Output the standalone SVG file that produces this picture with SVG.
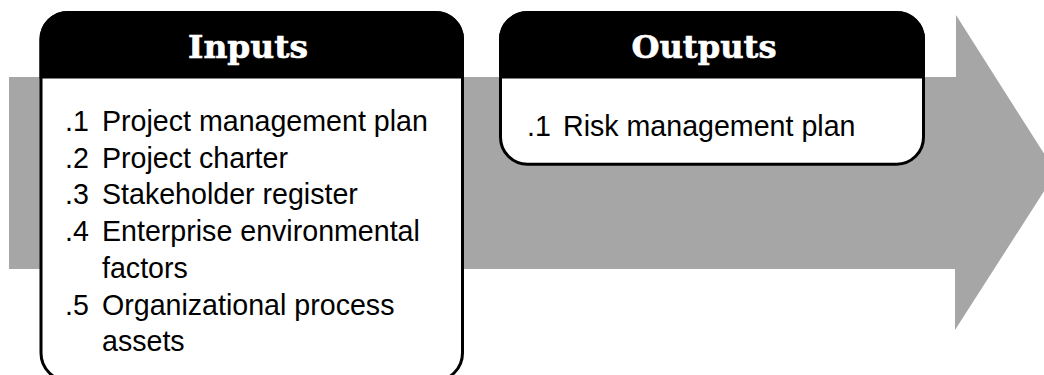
<svg xmlns="http://www.w3.org/2000/svg" width="1044" height="375" viewBox="0 0 1044 375">
  <style>
    .box { fill: #ffffff; stroke: #000000; stroke-width: 3; }
    .head { fill: #000000; stroke: #000000; stroke-width: 3; }
    .title { font-family: "DejaVu Serif", "Liberation Serif", serif; font-weight: bold; font-size: 31px; fill: #ffffff; stroke: #ffffff; stroke-width: 0.6; text-anchor: middle; }
    .item { font-family: "Liberation Sans", Arial, sans-serif; font-size: 28.6px; fill: #000000; }
  </style>
  <rect x="0" y="0" width="1044" height="375" fill="#ffffff"/>
  <g id="connectors">
    <polygon id="process-arrow" points="9,77 956,77 956,15 1056,172.5 955,330 955,269 9,269" fill="#a6a6a6"/>
  </g>
  <g id="inputs">
    <path class="box" d="M41,77 V39.5 A27,27 0 0 1 68,12.5 H435.5 A27,27 0 0 1 462.5,39.5 V353 A28,28 0 0 1 434.5,381 H69 A28,28 0 0 1 41,353 Z"/>
    <path class="head" d="M41,77 V39.5 A27,27 0 0 1 68,12.5 H435.5 A27,27 0 0 1 462.5,39.5 V77 Z"/>
    <text class="title" x="248" y="58" textLength="120" lengthAdjust="spacingAndGlyphs">Inputs</text>
    <text class="item" x="65" y="131">.1</text>
    <text class="item" x="102" y="131">Project management plan</text>
    <text class="item" x="65" y="167.5">.2</text>
    <text class="item" x="102" y="167.5">Project charter</text>
    <text class="item" x="65" y="204">.3</text>
    <text class="item" x="102" y="204">Stakeholder register</text>
    <text class="item" x="65" y="241">.4</text>
    <text class="item" x="102" y="241">Enterprise environmental</text>
    <text class="item" x="102" y="277.5">factors</text>
    <text class="item" x="65" y="314.5">.5</text>
    <text class="item" x="102" y="314.5">Organizational process</text>
    <text class="item" x="102" y="351">assets</text>
  </g>
  <g id="outputs">
    <rect class="box" x="500.5" y="12.5" width="423" height="151.7" rx="27" ry="27"/>
    <path class="head" d="M500.5,77 V39.5 A27,27 0 0 1 527.5,12.5 H896.5 A27,27 0 0 1 923.5,39.5 V77 Z"/>
    <text class="title" x="704" y="57.5" textLength="145" lengthAdjust="spacingAndGlyphs">Outputs</text>
    <text class="item" x="527" y="136">.1</text>
    <text class="item" x="563" y="136">Risk management plan</text>
  </g>
</svg>
